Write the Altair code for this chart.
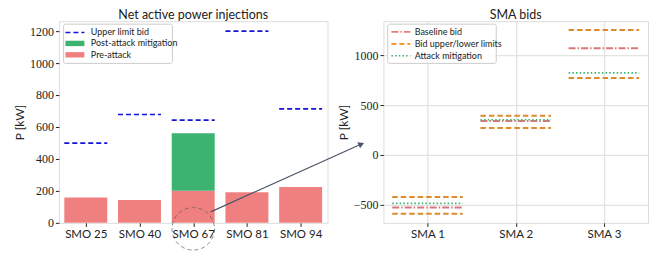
import json
import altair as alt
import pandas as pd

# ---------------- data ----------------
smo_names = ["SMO 25", "SMO 40", "SMO 67", "SMO 81", "SMO 94"]
pre_attack = [158, 143, 201, 191, 225]
post_attack = [None, None, 561, None, None]
upper_limit_bid = [499, 678, 643, 1200, 713]

sma_names = ["SMA 1", "SMA 2", "SMA 3"]
baseline_bid = [-527, 340, 1068]
bid_upper = [-422, 393, 1252]
bid_lower = [-590, 270, 770]
attack_mitigation = [-485, 352, 822]

SANS = "Lato"
SERIF = "Liberation Serif"
AX = "#222222"

left_df = pd.DataFrame({
    "idx": list(range(1, len(smo_names) + 1)),
    "name": smo_names,
    "pre": pre_attack,
    "post": post_attack,
    "bid": upper_limit_bid,
})
right_df = pd.DataFrame({
    "idx": list(range(1, len(sma_names) + 1)),
    "name": sma_names,
    "baseline": baseline_bid,
    "upper": bid_upper,
    "lower": bid_lower,
    "mitig": attack_mitigation,
})
one = pd.DataFrame({"a": [0]})


def cat_axis(names, grid):
    return alt.Axis(
        values=list(range(1, len(names) + 1)),
        labelExpr=json.dumps(names) + "[datum.value - 1]",
        title=None, grid=grid, domain=False,
        labelFont=SANS, labelFontSize=11.5, labelColor=AX,
        tickColor=AX, tickSize=3.5, labelPadding=2,
        gridColor="#e3e3e3", gridWidth=1.3,
    )


def val_axis(values, grid):
    return alt.Axis(
        values=values, title="P [kW]", grid=grid, domain=False,
        labelFont=SERIF, labelFontSize=12, labelColor=AX, labelOverlap=False,
        titleFont=SANS, titleFontSize=12, titleFontWeight="normal", titleColor=AX,
        titlePadding=3, tickColor=AX, tickSize=3.5, labelPadding=2,
        gridColor="#e3e3e3", gridWidth=1.3, format="d",
    )


# ---------------- left panel ----------------
lx = alt.Scale(domain=[0.5, len(smo_names) + 0.5], nice=False, zero=False)
ly = alt.Scale(domain=[0, 1262], nice=False)
LX = alt.X("x0:Q", scale=lx, axis=cat_axis(smo_names, False))
LX2 = alt.X2("x1:Q")


def LY(field):
    return alt.Y(field, type="quantitative", scale=ly,
                 axis=val_axis([0, 200, 400, 600, 800, 1000, 1200], False))


lbase = alt.Chart(left_df).transform_calculate(
    x0="datum.idx - 0.4", x1="datum.idx + 0.4"
)

pre_bars = lbase.mark_bar(color="#f08080").encode(
    x=LX, x2=LX2, y=LY("pre"), y2=alt.datum(0),
)
post_bars = lbase.transform_filter("isValid(datum.post)").mark_bar(color="#3cb371").encode(
    x=LX, x2=LX2, y=LY("pre"), y2=alt.Y2("post:Q")
)
bid_rules = lbase.mark_rule(color="#1414d8", strokeDash=[5, 3], strokeWidth=1.6).encode(
    x=LX, x2=LX2, y=LY("bid")
)


# manual legend helpers
def legend_box(x1, x2, y1, y2):
    return alt.Chart(one).mark_rect(fill="white", fillOpacity=0.85, stroke="#cccccc",
                                    strokeWidth=1, cornerRadius=2).encode(
        x=alt.value(x1), x2=alt.value(x2), y=alt.value(y1), y2=alt.value(y2))


def legend_text(x, y, s):
    return alt.Chart(one).mark_text(align="left", baseline="middle", font=SANS,
                                    fontSize=9, color=AX).encode(
        x=alt.value(x), y=alt.value(y), text=alt.value(s))


def legend_line(x1, x2, y, color, dash, w):
    return alt.Chart(one).mark_rule(color=color, strokeDash=dash, strokeWidth=w).encode(
        x=alt.value(x1), x2=alt.value(x2), y=alt.value(y))


def legend_patch(x1, x2, y, color):
    return alt.Chart(one).mark_rect(color=color).encode(
        x=alt.value(x1), x2=alt.value(x2), y=alt.value(y - 2.7), y2=alt.value(y + 2.7))


left_legend = [
    legend_box(4.7, 113.7, 3, 42.3),
    legend_line(6.5, 25.5, 11.3, "#1414d8", [5, 3], 1.6),
    legend_patch(6.5, 25.5, 22.3, "#3cb371"),
    legend_patch(6.5, 25.5, 33.7, "#f08080"),
    legend_text(32, 11.3, "Upper limit bid"),
    legend_text(32, 22.3, "Post-attack mitigation"),
    legend_text(32, 33.7, "Pre-attack"),
]

# annotation: dashed circle + arrow
circle = alt.Chart(one).mark_point(shape="circle", size=1810, filled=False,
                                   color="#555a66", strokeWidth=1, strokeDash=[4, 3]).encode(
    x=alt.X(datum=3, scale=lx, axis=cat_axis(smo_names, False)), y=alt.value(208))
arrow = alt.Chart(one).mark_rule(color="#4a5468", strokeWidth=1.2).encode(
    x=alt.value(152), y=alt.value(191), x2=alt.value(303), y2=alt.value(123))
arrow_head = alt.Chart(one).mark_point(shape="triangle", filled=True, size=45,
                                       angle=66, color="#4a5468", opacity=1).encode(
    x=alt.value(302), y=alt.value(123.5))

left = alt.layer(pre_bars, post_bars, bid_rules, *left_legend, circle, arrow, arrow_head).properties(
    width=269, height=202,
    title=alt.Title("Net active power injections", font=SANS, fontSize=12.5,
                    fontWeight="normal", color=AX, offset=0),
)

# ---------------- right panel ----------------
rx = alt.Scale(domain=[0.5, len(sma_names) + 0.5], nice=False, zero=False)
ry = alt.Scale(domain=[-680, 1340], nice=False, zero=False)
RX = alt.X("x0:Q", scale=rx, axis=cat_axis(sma_names, True))
RX2 = alt.X2("x1:Q")


def RY(field):
    return alt.Y(field, type="quantitative", scale=ry,
                 axis=val_axis([-500, 0, 500, 1000], True))


rbase = alt.Chart(right_df).transform_calculate(
    x0="datum.idx - 0.4", x1="datum.idx + 0.4"
)
ORANGE = "#e08a2c"
upper_r = rbase.mark_rule(color=ORANGE, strokeDash=[5.5, 3], strokeWidth=2).encode(
    x=RX, x2=RX2, y=RY("upper"))
lower_r = rbase.mark_rule(color=ORANGE, strokeDash=[5.5, 3], strokeWidth=2).encode(
    x=RX, x2=RX2, y=RY("lower"))
base_r = rbase.mark_rule(color="#d9787c", strokeDash=[7, 2, 1.5, 2], strokeWidth=2).encode(
    x=RX, x2=RX2, y=RY("baseline"))
mitig_r = rbase.mark_rule(color="#3cb371", strokeDash=[1.5, 2.2], strokeWidth=1.6).encode(
    x=RX, x2=RX2, y=RY("mitig"))

right_legend = [
    legend_box(4.3, 113, 3, 42.3),
    legend_line(8, 27, 10.7, "#f07a7a", [7, 2, 1.5, 2], 1.6),
    legend_line(8, 27, 22.7, "#ff8c1a", [5, 3], 1.6),
    legend_line(8, 27, 34.7, "#3cb371", [1.5, 2.2], 1.6),
    legend_text(31.3, 10.7, "Baseline bid"),
    legend_text(31.3, 22.7, "Bid upper/lower limits"),
    legend_text(31.3, 34.7, "Attack mitigation"),
]

right = alt.layer(upper_r, lower_r, base_r, mitig_r, *right_legend).properties(
    width=265, height=202,
    title=alt.Title("SMA bids", font=SANS, fontSize=12.5, fontWeight="normal",
                    color=AX, offset=0),
)

chart = (
    alt.hconcat(left, right, spacing=56, bounds="flush")
    .properties(padding={"left": 5, "top": 0, "right": 0, "bottom": 0})
    .configure_view(stroke="#555555", strokeWidth=1)
    .configure_axisY(labelFont=SERIF, labelFontSize=12)
    .configure_axisX(labelFont=SANS)
    .configure(background="white")
)

chart.save("out.html", embed_options={"renderer": "svg", "actions": False})
